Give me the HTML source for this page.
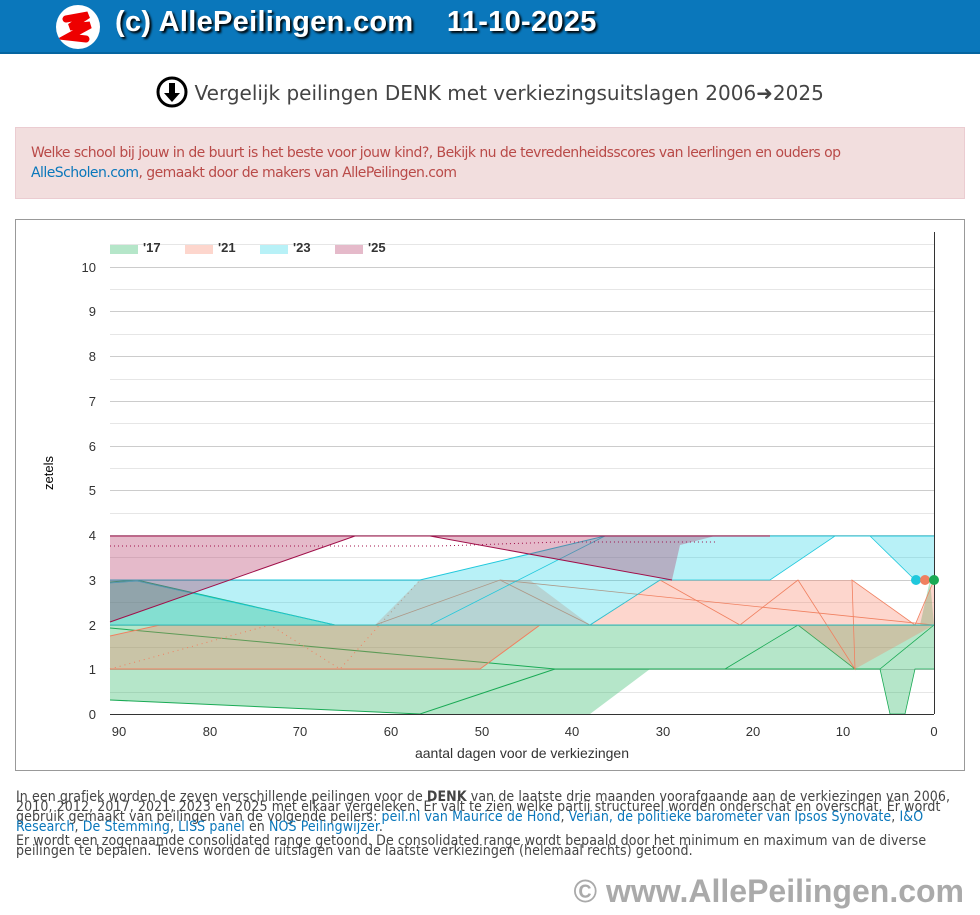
<!DOCTYPE html>
<html><head><meta charset="utf-8"><style>
*{margin:0;padding:0;box-sizing:border-box}
body{width:980px;height:915px;background:#fff;font-family:"Liberation Sans",sans-serif;position:relative;overflow:hidden}
.hdr{position:absolute;left:0;top:0;width:980px;height:54px;background:#0a77bb;border-bottom:2px solid #0565a0}
.hdr .t{position:absolute;left:115px;top:6px;font-size:29px;letter-spacing:0.3px;font-weight:bold;color:#fff;text-shadow:2px 2px 2px #000;white-space:pre}
.logo{position:absolute;left:56px;top:5px;width:44px;height:44px;border-radius:50%;background:#fff;overflow:hidden}
.title{position:absolute;left:0;width:980px;top:76px;text-align:center;font-size:20px;color:#444;font-family:"DejaVu Sans",sans-serif}
.alert{position:absolute;left:15px;top:127px;width:950px;height:72px;background:#f2dede;border:1px solid #ebccd1;color:#b94a48;font-size:14px;padding:15px 15px;line-height:20px;font-family:"DejaVu Sans",sans-serif;letter-spacing:-0.55px}
.alert a{color:#0a77bb;text-decoration:none}
.chart{position:absolute;left:15px;top:219px;width:950px;height:552px;border:1px solid #999}
.txt{position:absolute;left:16px;width:960px;font-size:14px;line-height:10px;color:#444;font-family:"DejaVu Sans Condensed","DejaVu Sans",sans-serif;letter-spacing:0.1px;white-space:nowrap}
.txt a{color:#0a77bb;text-decoration:none}
.foot{position:absolute;right:16px;top:873px;font-size:32px;letter-spacing:0px;font-weight:bold;color:#aaa}
</style></head><body>
<div class="hdr"><div class="logo"><svg width="44" height="44"><path d="M10 14 L32 10 L14 22 L34 20 L12 32 L30 34" stroke="#e00" stroke-width="7" fill="none" stroke-linecap="round"/></svg></div><div class="t">(c) AllePeilingen.com    11-10-2025</div></div>
<div class="title"><svg width="32" height="32" style="vertical-align:-8px"><circle cx="16" cy="16" r="14" fill="none" stroke="#000" stroke-width="3"/><path d="M13 7h6v10h5l-8 9-8-9h5z" fill="#000"/></svg> Vergelijk peilingen DENK met verkiezingsuitslagen 2006➜2025</div>
<div class="alert">Welke school bij jouw in de buurt is het beste voor jouw kind?, Bekijk nu de tevredenheidsscores van leerlingen en ouders op<br><a>AlleScholen.com</a>, gemaakt door de makers van AllePeilingen.com</div>
<div class="chart"></div>
<svg style="position:absolute;left:0;top:0" width="980" height="780" font-family="Liberation Sans,sans-serif">
<g stroke="#e6e6e6" stroke-width="1">
<line x1="110" x2="934" y1="244.5" y2="244.5"/><line x1="110" x2="934" y1="289.5" y2="289.5"/><line x1="110" x2="934" y1="334.5" y2="334.5"/><line x1="110" x2="934" y1="379.5" y2="379.5"/><line x1="110" x2="934" y1="423.5" y2="423.5"/><line x1="110" x2="934" y1="468.5" y2="468.5"/><line x1="110" x2="934" y1="513.5" y2="513.5"/><line x1="110" x2="934" y1="557.5" y2="557.5"/><line x1="110" x2="934" y1="602.5" y2="602.5"/><line x1="110" x2="934" y1="647.5" y2="647.5"/><line x1="110" x2="934" y1="692.5" y2="692.5"/>
</g>
<g stroke="#ccc" stroke-width="1">
<line x1="110" x2="934" y1="267.5" y2="267.5"/><line x1="110" x2="934" y1="311.5" y2="311.5"/><line x1="110" x2="934" y1="356.5" y2="356.5"/><line x1="110" x2="934" y1="401.5" y2="401.5"/><line x1="110" x2="934" y1="446.5" y2="446.5"/><line x1="110" x2="934" y1="490.5" y2="490.5"/><line x1="110" x2="934" y1="535.5" y2="535.5"/><line x1="110" x2="934" y1="580.5" y2="580.5"/><line x1="110" x2="934" y1="625.5" y2="625.5"/><line x1="110" x2="934" y1="669.5" y2="669.5"/>
</g>
<polygon points="110,582 137,580 335,625 920,625 930,580 934,625 934,669 915,669 905,714 890,714 880,669 650,669 590,714 420,714 110,700" fill="rgba(30,180,90,0.33)" stroke="none"/>
<polyline points="110,628 555,669 880,669" fill="none" stroke="#1aaa55"/>
<polyline points="110,700 420,714 555,669 650,669" fill="none" stroke="#1aaa55"/>
<polyline points="110,582 137,580 335,625 934,625" fill="none" stroke="#1aaa55"/>
<polyline points="725,669 798,625 855,669 880,669 934,625" fill="none" stroke="#1aaa55" stroke-width="0.8"/>
<polyline points="880,669 890,714 905,714 915,669 934,669" fill="none" stroke="#1aaa55" stroke-width="0.8"/>
<polygon points="110,636 160,625 375,625 420,580 530,580 590,625 660,580 700,580 798,580 852,580 915,625 934,580 934,625 855,669 798,625 540,625 480,669 110,669" fill="rgba(250,120,90,0.3)"/>
<polyline points="110,669 480,669 540,625 934,625" fill="none" stroke="#f08060"/>
<polyline points="110,636 160,625" fill="none" stroke="#f08060"/>
<polyline points="375,625 500,580 590,625 660,580 740,625 798,580 855,669 852,580 915,625 934,580" fill="none" stroke="#f08060" stroke-width="0.8"/>
<polyline points="500,580 934,625" fill="none" stroke="#f08060" stroke-width="0.8"/>
<polyline points="110,669 270,625 340,669 420,580" fill="none" stroke="#f08060" stroke-width="1" stroke-dasharray="1,4"/>
<polygon points="110,580 420,580 605,536 934,536 934,580 915,580 870,536 835,536 770,580 660,580 590,625 110,625" fill="rgba(20,210,230,0.3)"/>
<polyline points="110,580 420,580 605,536 934,536" fill="none" stroke="#20c8dc"/>
<polyline points="110,583 137,581 335,625 430,625 605,536" fill="none" stroke="#20c8dc" stroke-width="0.8"/>
<polyline points="590,625 660,580 770,580 835,536 870,536 915,580" fill="none" stroke="#20c8dc" stroke-width="0.8"/>
<line x1="110" y1="625" x2="934" y2="625" stroke="#30c0c0" stroke-width="1"/>
<polygon points="110,536 715,536 680,545 672,580 430,536 355,536 110,622" fill="rgba(175,40,90,0.32)"/>
<polyline points="110,536 770,536" fill="none" stroke="#a0104a"/>
<polyline points="110,622 355,536 430,536 672,580" fill="none" stroke="#a0104a"/>
<polyline points="110,546 440,546 560,542 715,542" fill="none" stroke="#a0104a" stroke-dasharray="1,3"/>
<line x1="934.5" y1="232" x2="934.5" y2="714" stroke="#333"/>
<line x1="110" y1="714.5" x2="934" y2="714.5" stroke="#333"/>
<circle cx="916" cy="580" r="5" fill="#20c8dc"/><circle cx="925" cy="580" r="5" fill="#f08060"/><circle cx="934" cy="580" r="5" fill="#1aaa55"/>
<g font-size="13" fill="#333" text-anchor="end">
<text x="96" y="272">10</text><text x="96" y="316">9</text><text x="96" y="361">8</text><text x="96" y="406">7</text><text x="96" y="451">6</text><text x="96" y="495">5</text><text x="96" y="540">4</text><text x="96" y="585">3</text><text x="96" y="630">2</text><text x="96" y="674">1</text><text x="96" y="719">0</text>
</g>
<g font-size="13" fill="#333" text-anchor="middle">
<text x="119" y="736">90</text><text x="210" y="736">80</text><text x="300" y="736">70</text><text x="391" y="736">60</text><text x="482" y="736">50</text><text x="572" y="736">40</text><text x="663" y="736">30</text><text x="753" y="736">20</text><text x="843" y="736">10</text><text x="934" y="736">0</text>
<text x="522" y="758" font-size="14">aantal dagen voor de verkiezingen</text>
</g>
<text transform="translate(53,473) rotate(-90)" font-size="13" fill="#000" text-anchor="middle">zetels</text>
<g font-size="13" font-weight="bold" fill="#333">
<rect x="110" y="245" width="28" height="9" fill="rgba(30,180,90,0.33)"/><text x="143" y="252">'17</text>
<rect x="185" y="245" width="28" height="9" fill="rgba(250,120,90,0.3)"/><text x="218" y="252">'21</text>
<rect x="260" y="245" width="28" height="9" fill="rgba(20,210,230,0.3)"/><text x="293" y="252">'23</text>
<rect x="335" y="245" width="28" height="9" fill="rgba(175,40,90,0.32)"/><text x="368" y="252">'25</text>
</g>
</svg>
<div class="txt" style="top:792px">In een grafiek worden de zeven verschillende peilingen voor de <b>DENK</b> van de laatste drie maanden voorafgaande aan de verkiezingen van 2006,<br>2010, 2012, 2017, 2021, 2023 en 2025 met elkaar vergeleken. Er valt te zien welke partij structureel worden onderschat en overschat. Er wordt<br>gebruik gemaakt van peilingen van de volgende peilers: <a>peil.nl van Maurice de Hond</a>, <a>Verian, de politieke barometer van Ipsos Synovate</a>, <a>I&amp;O</a><br><a>Research</a>, <a>De Stemming</a>, <a>LISS panel</a> en <a>NOS Peilingwijzer</a>.</div>
<div class="txt" style="top:836px">Er wordt een zogenaamde consolidated range getoond. De consolidated range wordt bepaald door het minimum en maximum van de diverse<br>peilingen te bepalen. Tevens worden de uitslagen van de laatste verkiezingen (helemaal rechts) getoond.</div>
<div class="foot">© www.AllePeilingen.com</div>
</body></html>
